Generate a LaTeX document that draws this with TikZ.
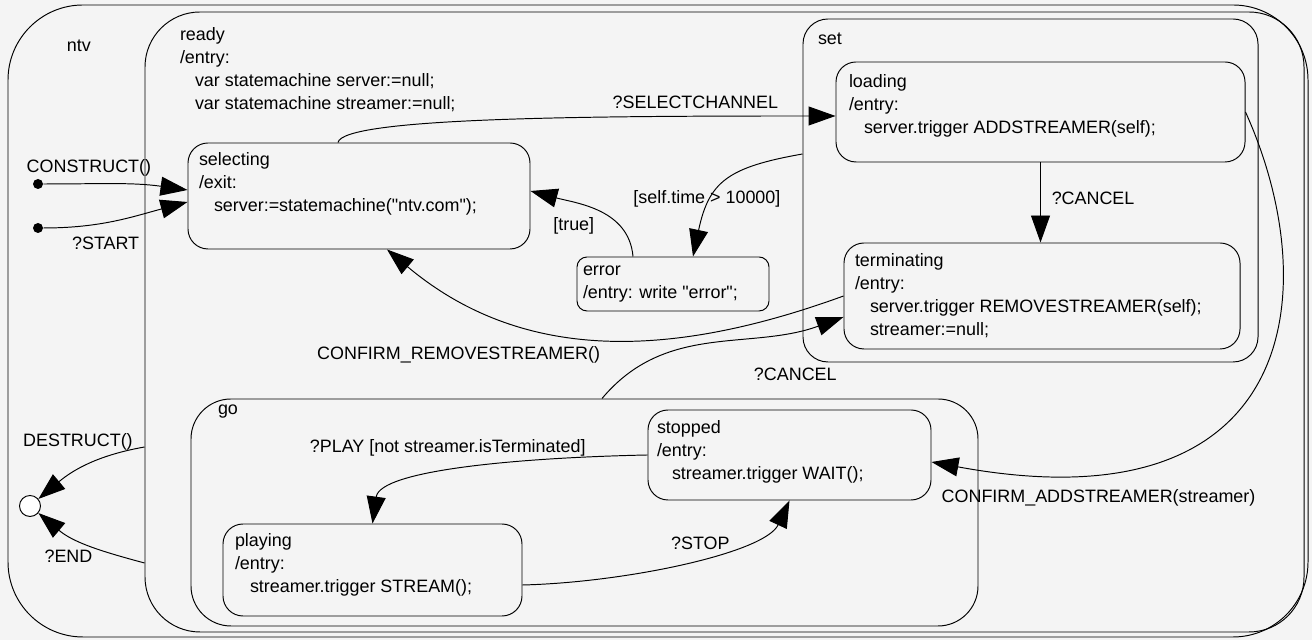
\documentclass[tikz,border=0pt]{standalone}
\usepackage{fontspec}
\setmainfont{Liberation Sans}[Ligatures=TeXOff]
\usetikzlibrary{arrows.meta,positioning,calc}
\definecolor{bggray}{RGB}{244,244,244}
\newcommand{\ind}{\hspace*{0.3cm}}

\begin{document}
\begin{tikzpicture}[>={Triangle[length=5.4mm,width=3.8mm]}, line width=0.55pt,
  font=\fontsize{10.2}{13.2}\selectfont,
  stbox/.style={draw,rounded corners=#1,inner sep=0pt},
  stbox/.default=0.4cm,
  txt/.style={align=left,inner sep=0pt},
  lbl/.style={inner sep=1pt}]
\fill[bggray] (0,0) rectangle (26.24,12.8);
\useasboundingbox (0,0) rectangle (26.24,12.8);

% composite states
\node[stbox=1.5cm,minimum width=26cm,minimum height=12.64cm] (ntv) at (13.16,6.38) {};
\node[stbox=1.1cm,minimum width=23.18cm,minimum height=12.4cm] (ready) at (14.49,6.36) {};
\node[stbox=0.5cm,minimum width=9.1cm,minimum height=6.86cm] (set) at (20.61,8.99) {};
\node[stbox=0.8cm,minimum width=15.74cm,minimum height=4.54cm] (go) at (11.69,2.55) {};

% simple states
\node[stbox,minimum width=6.84cm,minimum height=2.12cm] (selecting) at (7.18,8.88) {};
\node[stbox,minimum width=8.18cm,minimum height=2cm] (loading) at (20.81,10.56) {};
\node[stbox,minimum width=7.92cm,minimum height=2.12cm] (terminating) at (20.84,6.88) {};
\node[stbox=0.2cm,minimum width=3.84cm,minimum height=1.08cm] (error) at (13.46,7.12) {};
\node[stbox,minimum width=5.66cm,minimum height=1.8cm] (stopped) at (15.79,3.70) {};
\node[stbox,minimum width=5.98cm,minimum height=1.84cm] (playing) at (7.45,1.40) {};

% state texts
\node[txt,below right=0.61cm and 1.18cm of ntv.north west] (ntvtxt) {\strut ntv};
\node[txt,below right=0.24cm and 0.7cm of ready.north west] (readytxt) {\strut ready\\/entry:\\\ind var statemachine server:=null;\\\ind var statemachine streamer:=null;};
\node[txt,below right=0.19cm and 0.3cm of set.north west] (settxt) {\strut set};
\node[txt,below right=0.12cm and 0.54cm of go.north west] (gotxt) {go};
\node[txt,below right=0.12cm and 0.22cm of selecting.north west] (selectingtxt) {\strut selecting\\/exit:\\\ind server:=statemachine("ntv.com");};
\node[txt,below right=0.18cm and 0.26cm of loading.north west] (loadingtxt) {\strut loading\\/entry:\\\ind server.trigger ADDSTREAMER(self);};
\node[txt,below right=0.14cm and 0.22cm of terminating.north west] (terminatingtxt) {\strut terminating\\/entry:\\\ind server.trigger REMOVESTREAMER(self);\\\ind streamer:=null;};
\node[txt,below right=0.04cm and 0.12cm of error.north west] (errortxt) {\strut error\\/entry: write "error";};
\node[txt,below right=0.14cm and 0.18cm of stopped.north west] (stoppedtxt) {\strut stopped\\/entry:\\\ind streamer.trigger WAIT();};
\node[txt,below right=0.12cm and 0.24cm of playing.north west] (playingtxt) {\strut playing\\/entry:\\\ind streamer.trigger STREAM();};

% pseudo states
\node[circle,fill,inner sep=0pt,minimum size=0.2cm] (init1) at (0.76,9.12) {};
\node[circle,fill,inner sep=0pt,minimum size=0.2cm] (init2) at (0.76,8.24) {};
\node[circle,draw,fill=white,inner sep=0pt,minimum size=0.42cm] (final) at (0.60,2.68) {};

% transitions
\draw[->] (init1) to[out=0,in=172] node[lbl,pos=0.3,above=0.1cm] (lblconstruct) {CONSTRUCT()} ([yshift=0.12cm]selecting.west);
\draw[->] (init2) to[out=0,in=195] node[lbl,pos=0.42,below=0.24cm] (lblstart) {?START} ([yshift=-0.12cm]selecting.west);
\draw[->] ([yshift=-2.5cm]ready.west) to[out=190,in=40] node[lbl,pos=0.6,above=0.36cm] (lbldestruct) {DESTRUCT()} (final);
\draw[->] ([yshift=-4.82cm]ready.west) to[out=165,in=-40] node[lbl,pos=0.7,below=0.27cm] (lblend) {?END} (final);

\draw[->] ([xshift=-0.42cm]selecting.north) .. controls +(0.1,0.5) and +(-5,0) .. ([yshift=-0.08cm]loading.west)
  node[lbl,pos=0.81,above=0.1cm] (lblselect) {?SELECTCHANNEL};
\draw[->] (loading.south) -- (loading.south |- terminating.north)
  node[lbl,midway,right=0.18cm,yshift=0.08cm] (lblcancel) {?CANCEL};
\draw[->] ([yshift=0.73cm]set.west) to[out=190,in=78,looseness=1.3] node[lbl,pos=0.55,xshift=-0.28cm,yshift=-0.24cm] (lbltime) {[self.time > 10000]} ([xshift=0.4cm]error.north);
\draw[->] ([xshift=-0.8cm]error.north) to[out=95,in=-15] node[lbl,pos=0.5,below left=0.1cm and 0.02cm] (lbltrue) {[true]} ([yshift=0.1cm]selecting.east);
\draw[->] (terminating.west) to[out=200,in=-40] node[lbl,pos=0.62,below=0.26cm,xshift=-1.82cm] (lblremove) {CONFIRM\_REMOVESTREAMER()} ([xshift=0.56cm]selecting.south);
\draw[->] ([xshift=0.35cm]go.north) to[out=50,in=200] node[lbl,pos=0.75,below=0.65cm,xshift=0.4cm] (lblcancelgo) {?CANCEL} ([yshift=-0.42cm]terminating.west);
\draw[->] (loading.east) .. controls +(1.6,-3.54) and +(7.38,-1.36) .. ([yshift=-0.14cm]stopped.east)
  node[lbl,pos=0.8,below=0.38cm,xshift=-0.3cm] (lbladd) {CONFIRM\_ADDSTREAMER(streamer)};
\draw[->] (stopped.west) .. controls +(-2.46,-0.05) and +(0.15,1.08) .. (playing.north)
  node[lbl,pos=0.5,above=0.22cm,xshift=-0.38cm] (lblplay) {?PLAY [not streamer.isTerminated]};
\draw[->] ([yshift=-0.3cm]playing.east) .. controls +(2.06,0.05) and +(-0.49,-1.05) .. (stopped.south)
  node[lbl,pos=0.55,above=0.1cm] (lblstop) {?STOP};
\end{tikzpicture}
\end{document}
